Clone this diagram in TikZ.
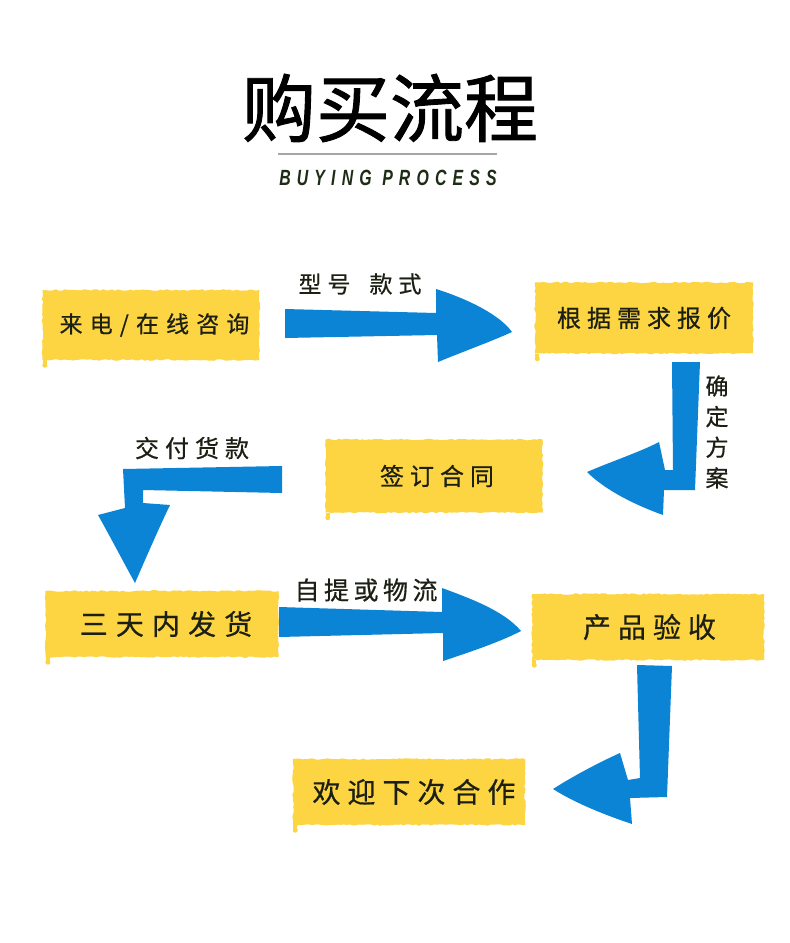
\documentclass[tikz,border=0pt]{standalone}
\usepackage{fontspec}
\newfontfamily\cjk{Noto Sans CJK SC}[FakeBold=0.6]
\newfontfamily\cjktitle{Noto Sans CJK SC}[FakeBold=1.2]
\newfontfamily\latinit{Liberation Sans}[FakeStretch=0.72]
\usetikzlibrary{decorations.pathmorphing}
\definecolor{boxyellow}{RGB}{253,212,66}
\definecolor{arrowblue}{RGB}{11,132,214}
\definecolor{inkdark}{RGB}{28,32,20}
\definecolor{subgreen}{RGB}{30,44,22}
\newcommand\cjkfont[2]{\fontsize{#1}{#1}\cjk\addfontfeature{LetterSpace=#2}}
\begin{document}
\begin{tikzpicture}[x=1pt, y=-1pt,
    box/.style = {fill = boxyellow, text = inkdark, inner sep = 0pt, decorate,
        decoration = {random steps, segment length = 3pt, amplitude = 0.8pt}},
    tag/.style = {text = inkdark, inner sep = 0pt},
    arrowbody/.style = {fill = arrowblue}]
    \pgfmathsetseed{7}
    \useasboundingbox[fill = white] (0,0) rectangle (790,943);
    % title
    \node (title) at (390,108) {\fontsize{74}{74}\cjktitle 购买流程};
    \draw[gray!70, line width = 1.4pt] (278,154) -- (497,154);
    \node[text = subgreen] (subtitle) at (388,178)
        {\fontsize{22}{22}\latinit\bfseries\itshape\addfontfeature{LetterSpace=28}BUYING PROCESS};
    % steps
    \node[box, minimum width = 217, minimum height = 70, font = {\cjkfont{23}{31}}] (b1) at (151,325) {\hspace*{7pt}来电/在线咨询};
    \node[box, minimum width = 218, minimum height = 71, font = {\cjkfont{24}{25}}] (b2) at (644,318) {根据需求报价};
    \node[box, minimum width = 217, minimum height = 73, font = {\cjkfont{24}{25}}] (b3) at (434,476) {\hspace*{6pt}签订合同};
    \node[box, minimum width = 233, minimum height = 66, font = {\cjkfont{28}{29}}] (b4) at (162,624) {\hspace*{8pt}三天内发货};
    \node[box, minimum width = 232, minimum height = 66, font = {\cjkfont{28}{25}}] (b5) at (648,627) {\hspace*{3pt}产品验收};
    \node[box, minimum width = 232, minimum height = 66, font = {\cjkfont{28}{25}}] (b6) at (409,792) {\hspace*{10pt}欢迎下次合作};
    \foreach \bx in {b1, b2, b3, b4, b5, b6} {
        \fill[boxyellow] ([xshift = 2.5pt, yshift = -5pt]\bx.south west) circle[radius = 2.5];
        \fill[boxyellow] ([xshift = 0.5pt]\bx.south west) rectangle ([xshift = 4.5pt, yshift = -5pt]\bx.south west);
    }
    % arrows
    \fill[arrowbody] (285,309) -- (436,313) -- (436,289) .. controls (468,299) and (500,315) .. (512,332)
        .. controls (490,342) and (462,352) .. (438,362) -- (437,335) -- (285,338) -- cycle;
    \fill[arrowbody] (672,362) -- (700,362) -- (695,490) -- (664,490) -- (663,515)
        .. controls (635,505) and (605,490) .. (587,472) .. controls (610,462) and (640,452) .. (659,442)
        -- (665,470) -- (673,470) -- cycle;
    \fill[arrowbody] (282,466) -- (123,469) -- (125,508) -- (98,515)
        .. controls (112,540) and (125,565) .. (135,583) .. controls (145,560) and (158,530) .. (170,505)
        -- (143,503) -- (143,490) -- (282,493) -- cycle;
    \fill[arrowbody] (279,607) -- (442,612) -- (442,588) .. controls (475,600) and (505,612) .. (521,631)
        .. controls (500,642) and (470,652) .. (443,661) -- (443,633) -- (279,637) -- cycle;
    \fill[arrowbody] (637,665) -- (672,666) -- (667,797) -- (630,798) -- (632,824)
        .. controls (605,815) and (575,803) .. (553,789) .. controls (575,775) and (600,762) .. (620,753)
        -- (628,780) -- (640,778) -- cycle;
    % arrow labels
    \node[tag, font = {\cjkfont{23}{26}}] (l1) at (360,284) {型号\hspace{19pt}款式};
    \foreach \c [count = \i] in {确, 定, 方, 案}
        \node[tag, font = {\cjkfont{23}{0}}] (l2\i) at (717,{386+30.6*(\i-1)}) {\c};
    \node[tag, font = {\cjkfont{24}{25}}] (l3) at (192,448) {交付货款};
    \node[tag, font = {\cjkfont{25}{18}}] (l4) at (366,590) {自提或物流};
\end{tikzpicture}
\end{document}
